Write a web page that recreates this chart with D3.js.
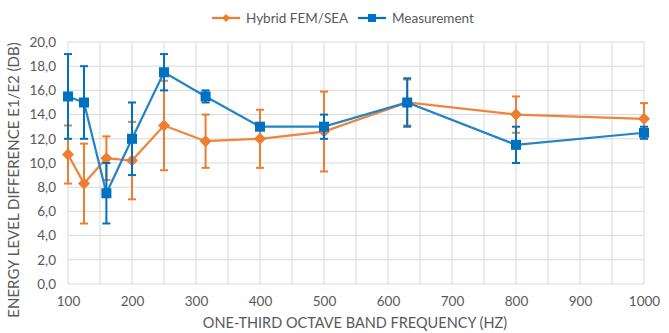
<!DOCTYPE html>
<html>
<head>
<meta charset="utf-8">
<script src="https://cdn.jsdelivr.net/npm/d3@7"></script>
<style>
  body { margin: 0; background: #fff; }
  text { font-family: Lato, "Open Sans", sans-serif; fill: #595959; }
</style>
</head>
<body>
<svg id="chart"></svg>
<script>
// chart data
const freqs = [100, 125, 160, 200, 250, 315, 400, 500, 630, 800, 1000];
const hybrid = [10.7, 8.3, 10.4, 10.2, 13.1, 11.8, 12.0, 12.6, 15.0, 14.0, 13.65];
const hybridErr = [2.4, 3.3, 1.8, 3.2, 3.7, 2.2, 2.4, 3.3, 1.9, 1.5, 1.3];
const measured = [15.5, 15.0, 7.5, 12.0, 17.5, 15.5, 13.0, 13.0, 15.0, 11.5, 12.5];
const measuredErr = [3.5, 3.0, 2.5, 3.0, 1.5, 0.5, 0, 1.0, 2.0, 1.5, 0.5];
const xTicks = [100, 200, 300, 400, 500, 600, 700, 800, 900, 1000];
const yTicks = [0, 2, 4, 6, 8, 10, 12, 14, 16, 18, 20];
const seriesNames = ['Hybrid FEM/SEA', 'Measurement'];

const width = 669, height = 333;
const margin = { top: 42, right: 25, bottom: 49, left: 68 };

const svg = d3.select('#chart')
    .attr('width', width)
    .attr('height', height);

const x = d3.scaleLinear().domain([100, 1000]).range([margin.left, width - margin.right]);
const y = d3.scaleLinear().domain([0, 20]).range([height - margin.bottom, margin.top]);

const orange = '#ED7D31';
const blue = '#0070C0';
const blueLine = '#2384C6';

// grid
const grid = svg.append('g');
grid.selectAll('line.v')
    .data(d3.range(100, 1001, 50))
    .enter().append('line')
    .attr('x1', d => x(d)).attr('x2', d => x(d))
    .attr('y1', y(0)).attr('y2', y(20))
    .attr('stroke', '#d9d9d9').attr('stroke-width', 1);
grid.selectAll('line.h')
    .data(yTicks)
    .enter().append('line')
    .attr('x1', x(100)).attr('x2', x(1000))
    .attr('y1', d => y(d)).attr('y2', d => y(d))
    .attr('stroke', '#d9d9d9').attr('stroke-width', 1);

// axes
const fmt = d => d3.format('.1f')(d).replace('.', ',');
const yAxis = svg.append('g')
    .attr('transform', `translate(${margin.left},0)`)
    .call(d3.axisLeft(y).tickValues(yTicks).tickFormat(fmt).tickSize(0).tickPadding(12));
yAxis.select('.domain').remove();
yAxis.selectAll('text').style('font-size', '13.5px').attr('fill', '#595959');

const xAxis = svg.append('g')
    .attr('transform', `translate(0,${y(0)})`)
    .call(d3.axisBottom(x).tickValues(xTicks).tickFormat(d3.format('d')).tickSize(0).tickPadding(12));
xAxis.select('.domain').remove();
xAxis.selectAll('text').style('font-size', '13.5px').attr('fill', '#595959');

// axis titles
svg.append('text')
    .attr('x', 355).attr('y', 328)
    .attr('text-anchor', 'middle')
    .style('font-size', '14.5px')
    .text('ONE-THIRD OCTAVE BAND FREQUENCY (HZ)');
svg.append('text')
    .attr('transform', 'translate(19,180) rotate(-90)')
    .attr('text-anchor', 'middle')
    .style('font-size', '15px')
    .text('ENERGY LEVEL DIFFERENCE E1/E2 (DB)');

function drawSeries(values, errs, color, lineColor, marker) {
    const g = svg.append('g');
    const pts = freqs.map((f, i) => ({ f: f, v: values[i], e: errs[i] }));

    g.append('path')
        .datum(pts)
        .attr('fill', 'none')
        .attr('stroke', lineColor)
        .attr('stroke-width', 2.25)
        .attr('d', d3.line().x(d => x(d.f)).y(d => y(d.v)));

    const eb = g.selectAll('g.err').data(pts.filter(d => d.e > 0)).enter().append('g');
    eb.append('line')
        .attr('x1', d => x(d.f)).attr('x2', d => x(d.f))
        .attr('y1', d => y(d.v - d.e)).attr('y2', d => y(d.v + d.e))
        .attr('stroke', color).attr('stroke-width', 2);
    [-1, 1].forEach(s => {
        eb.append('line')
            .attr('x1', d => x(d.f) - 4).attr('x2', d => x(d.f) + 4)
            .attr('y1', d => y(d.v + s * d.e)).attr('y2', d => y(d.v + s * d.e))
            .attr('stroke', color).attr('stroke-width', 2);
    });

    if (marker === 'diamond') {
        g.selectAll('path.m').data(pts).enter().append('path')
            .attr('transform', d => `translate(${x(d.f)},${y(d.v)})`)
            .attr('d', 'M0,-6L6,0L0,6L-6,0Z')
            .attr('fill', color);
    } else {
        g.selectAll('rect.m').data(pts).enter().append('rect')
            .attr('x', d => x(d.f) - 5).attr('y', d => y(d.v) - 5)
            .attr('width', 10).attr('height', 10)
            .attr('fill', color);
    }
}

drawSeries(hybrid, hybridErr, orange, '#F0843C', 'diamond');
drawSeries(measured, measuredErr, blue, blueLine, 'square');

// legend
const legend = svg.append('g').attr('transform', 'translate(0,18)');
const items = [
    { name: seriesNames[0], color: orange, x0: 212, marker: 'diamond' },
    { name: seriesNames[1], color: blue, x0: 358, marker: 'square' }
];
items.forEach(it => {
    legend.append('line')
        .attr('x1', it.x0).attr('x2', it.x0 + 28)
        .attr('y1', 0).attr('y2', 0)
        .attr('stroke', it.color).attr('stroke-width', 2.25);
    if (it.marker === 'diamond') {
        legend.append('path')
            .attr('transform', `translate(${it.x0 + 14},0)`)
            .attr('d', 'M0,-4L4,0L0,4L-4,0Z')
            .attr('fill', it.color);
    } else {
        legend.append('rect')
            .attr('x', it.x0 + 10).attr('y', -4)
            .attr('width', 8).attr('height', 8)
            .attr('fill', it.color);
    }
    legend.append('text')
        .attr('x', it.x0 + 34).attr('y', 0)
        .attr('dy', '0.35em')
        .style('font-size', '13.5px')
        .text(it.name);
});
</script>
</body>
</html>
